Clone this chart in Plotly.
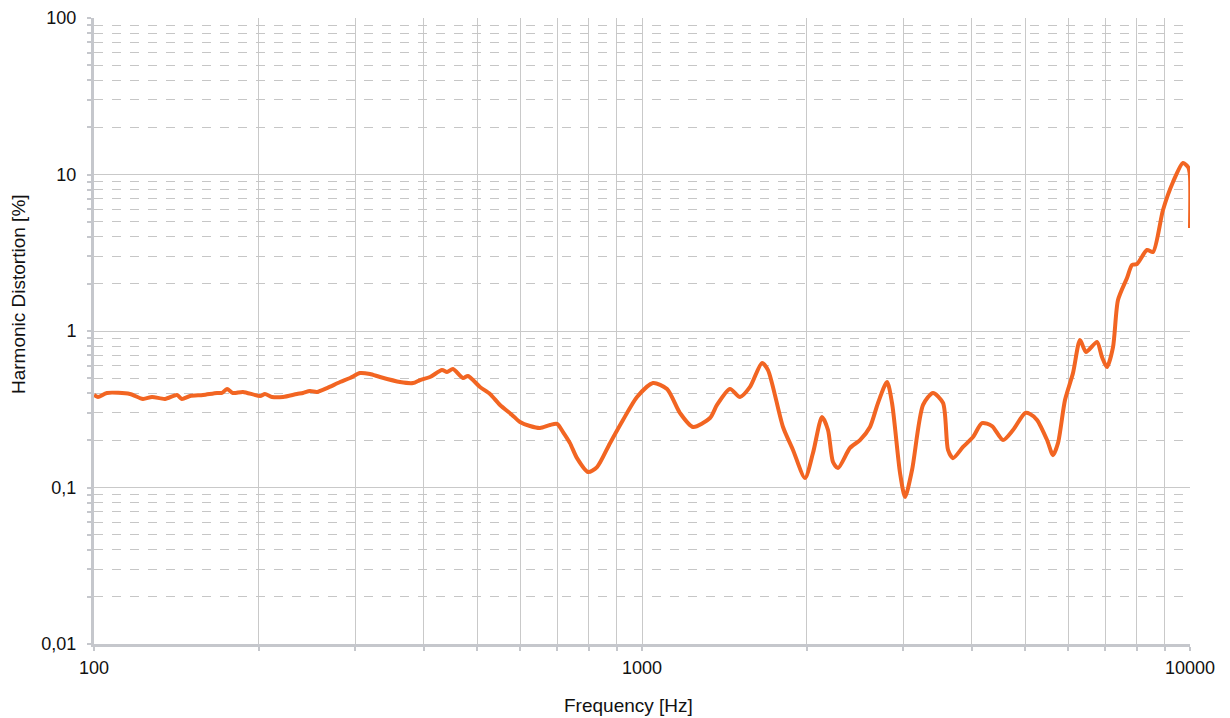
import plotly.graph_objects as go

# Frequency [Hz]
freq_hz = [100, 101.7, 105.6, 116.3, 122.8, 127.6, 134.8, 141.7, 144.7, 149.7,
           158.1, 167.7, 171.2, 174.9, 179.3, 187.0, 200.9, 205.1, 211.3, 221.3,
           234.6, 240.6, 247.8, 255.2, 266.2, 281.2, 293.3, 305.9, 318.9, 332.6,
           361.7, 382.1, 393.5, 410.4, 431.5, 440.7, 451.9, 471.3, 481.3, 506.2,
           528.0, 550.7, 579.2, 598.9, 624.6, 651.5, 679.5, 699.8, 717.6, 738.9,
           761.0, 797.1, 827.8, 874.2, 923.3, 979.3, 1047.4, 1110.9, 1173.2, 1239.1,
           1330.7, 1370.5, 1447.4, 1509.5, 1574.4, 1655.8, 1698.0, 1808.5, 1886.0, 1983.4,
           2051.2, 2130.5, 2184.7, 2231.2, 2278.8, 2396.6, 2499.3, 2606.5, 2695.7, 2799.7,
           2859.2, 2957.0, 3019.9, 3110.2, 3257.4, 3396.6, 3542.4, 3617.5, 3694.1, 3853.1,
           4018.1, 4172.8, 4352.2, 4558.7, 4753.8, 4999.5, 5105.7, 5258.3, 5484.7, 5623.4,
           5742.5, 5914.3, 6116.6, 6299.5, 6459.6, 6765.6, 6909.1, 7055.4, 7236.3, 7389.6,
           7674.0, 7837.4, 8003.6, 8346.6, 8560.4, 8927.5, 9311.0, 9709.9, 9917.0, 9995.0,
           10000]

# Harmonic distortion [%]
thd_pct = [0.390, 0.379, 0.402, 0.396, 0.368, 0.379, 0.368, 0.390, 0.368, 0.384,
           0.390, 0.402, 0.402, 0.426, 0.402, 0.408, 0.384, 0.396, 0.379, 0.379,
           0.396, 0.402, 0.414, 0.408, 0.432, 0.472, 0.501, 0.539, 0.531, 0.508,
           0.472, 0.465, 0.486, 0.508, 0.563, 0.547, 0.572, 0.501, 0.516, 0.439,
           0.396, 0.337, 0.291, 0.262, 0.247, 0.240, 0.251, 0.255, 0.226, 0.192,
           0.154, 0.1256, 0.135, 0.192, 0.270, 0.379, 0.465, 0.426, 0.299, 0.2435,
           0.278, 0.337, 0.426, 0.379, 0.439, 0.625, 0.563, 0.2435, 0.1737, 0.115,
           0.166, 0.282, 0.233, 0.1455, 0.133, 0.179, 0.201, 0.2435, 0.347, 0.472,
           0.347, 0.1238, 0.087, 0.1294, 0.337, 0.402, 0.347, 0.1737, 0.154, 0.1815,
           0.210, 0.258, 0.247, 0.201, 0.233, 0.299, 0.295, 0.270, 0.201, 0.161,
           0.192, 0.362, 0.539, 0.876, 0.734, 0.851, 0.682, 0.589, 0.790, 1.578,
           2.181, 2.641, 2.680, 3.293, 3.198, 5.933, 8.957, 11.85, 11.17, 9.93,
           4.55]

x_tickvals = [100, 1000, 10000]
x_ticktext = ["100", "1000", "10000"]
y_tickvals = [0.01, 0.1, 1, 10, 100]
y_ticktext = ["0,01", "0,1", "1", "10", "100"]

x_minor = [m * d for d in (100, 1000) for m in range(2, 10)]
y_minor = [m * d for d in (0.01, 0.1, 1, 10) for m in range(2, 10)]

FONT = "Liberation Sans, Arial, sans-serif"
GRID = "#c9c9c9"
AXIS = "#c5c7cc"

fig = go.Figure()
fig.add_trace(go.Scatter(
    x=freq_hz, y=thd_pct, mode="lines",
    line=dict(color="#F26522", width=4, shape="spline", smoothing=0.7),
    hoverinfo="x+y", showlegend=False,
))

# page body has an 8px default margin, so the figure is offset by (8, 8)
fig.update_layout(
    width=1222, height=710,
    margin=dict(l=86, r=40, t=10, b=74),
    paper_bgcolor="white", plot_bgcolor="white",
    font=dict(family=FONT, size=17, color="#111111"),
    xaxis=dict(
        type="log", range=[2, 4], automargin=False,
        tickvals=x_tickvals, ticktext=x_ticktext,
        showgrid=True, gridcolor=GRID, gridwidth=1,
        showline=True, linecolor=AXIS, linewidth=3,
        ticks="outside", ticklen=4, tickcolor=AXIS, tickwidth=2,
        ticklabelstandoff=1,
        tickfont=dict(family=FONT, size=18, color="#111111"),
        minor=dict(tickvals=x_minor, showgrid=True, gridcolor=GRID, gridwidth=1,
                   ticks="outside", ticklen=4, tickcolor=AXIS, tickwidth=2),
        zeroline=False,
    ),
    yaxis=dict(
        type="log", range=[-2, 2], automargin=False,
        tickvals=y_tickvals, ticktext=y_ticktext,
        showgrid=True, gridcolor=GRID, gridwidth=1,
        showline=True, linecolor=AXIS, linewidth=3,
        ticks="outside", ticklen=4, tickcolor=AXIS, tickwidth=2,
        ticklabelstandoff=7,
        tickfont=dict(family=FONT, size=18, color="#111111"),
        minor=dict(tickvals=y_minor, showgrid=True, gridcolor="#c6c6c6", gridwidth=1,
                   griddash="dash",
                   ticks="outside", ticklen=4, tickcolor=AXIS, tickwidth=2),
        zeroline=False,
    ),
    annotations=[
        dict(text="Frequency [Hz]", xref="paper", yref="paper",
             x=(628 - 94) / 1096, y=(644 - 705) / 626,
             xanchor="center", yanchor="middle", showarrow=False,
             font=dict(family=FONT, size=19, color="#111111")),
        dict(text="Harmonic Distortion [%]", xref="paper", yref="paper",
             x=(19 - 94) / 1096, y=(644 - 294) / 626, textangle=-90,
             xanchor="center", yanchor="middle", showarrow=False,
             font=dict(family=FONT, size=19, color="#111111")),
    ],
)

fig.write_html("out.html")
